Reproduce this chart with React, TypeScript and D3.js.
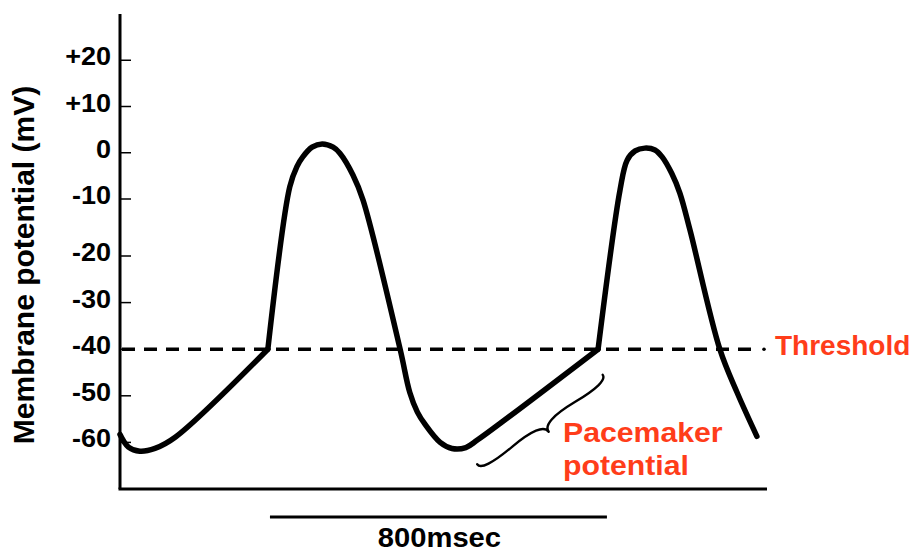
import React from "react";
import * as d3 from "d3";

// Y ticks (mV) and their labels
const yTickValues = [20, 10, 0, -10, -20, -30, -40, -50, -60];
const yTickLabels = ["+20", "+10", "0", "-10", "-20", "-30", "-40", "-50", "-60"];

// Membrane potential trace: time (ms) and potential (mV)
const traceTime = [0, 20, 47, 83, 131, 351, 403, 420, 434, 456, 480, 506, 522, 553, 577, 665, 688, 706, 724, 760, 788, 821, 850, 1135, 1187, 1204, 1223, 1246, 1270, 1287, 1310, 1329, 1353, 1424, 1465, 1512];
const traceMv = [-58.3, -61, -61.9, -61.3, -58.9, -40, -7.4, -3, -0.9, 1.2, 1.9, 1.2, -0.1, -4.8, -10.2, -40, -49.3, -53.5, -56.1, -60, -61.3, -61.1, -59.4, -40, -8.1, -1.6, 0.4, 1.0, 0.6, -0.9, -4.5, -8.7, -15.4, -40, -49.3, -58.7];

const thresholdMv = -40;
const thresholdLabel = "Threshold";
const pacemakerLabel = ["Pacemaker", "potential"];
// brace spans pacemaker phase: [time, mV] endpoints
const braceStart = [848, -64.7];
const braceEnd = [1146, -45.5];
// scale bar
const scaleBarStart = 356;
const scaleBarDuration = 800;
const scaleBarLabel = "800msec";
const yTitle = "Membrane potential (mV)";

const W = 921;
const H = 554;

export default function App() {
  const x = d3.scaleLinear().domain([0, 1536]).range([120, 767]);
  const y = d3.scaleLinear().domain([-70, -20, -10, 30]).range([489, 256, 199, 14]);

  const pts: [number, number][] = traceTime.map((t, i) => [t, traceMv[i]]);
  const line = d3
    .line<[number, number]>()
    .x((d) => x(d[0]))
    .y((d) => y(d[1]))
    .curve(d3.curveCatmullRom.alpha(0.5));
  // split at threshold joints so the corners stay sharp
  const seg1 = pts.slice(0, 6);
  const seg2 = pts.slice(5, 24);
  const seg3 = pts.slice(23);

  // curly brace
  const x1 = x(braceEnd[0]), y1 = y(braceEnd[1]);
  const x2 = x(braceStart[0]), y2 = y(braceStart[1]);
  const w = -15, q = 0.6;
  let dx = x1 - x2, dy = y1 - y2;
  const len = Math.sqrt(dx * dx + dy * dy);
  dx /= len; dy /= len;
  const qx1 = x1 + q * w * dy, qy1 = y1 - q * w * dx;
  const qx2 = x1 - 0.25 * len * dx + (1 - q) * w * dy, qy2 = y1 - 0.25 * len * dy - (1 - q) * w * dx;
  const tx1 = x1 - 0.5 * len * dx + w * dy, ty1 = y1 - 0.5 * len * dy - w * dx;
  const qx3 = x2 + q * w * dy, qy3 = y2 - q * w * dx;
  const qx4 = x1 - 0.75 * len * dx + (1 - q) * w * dy, qy4 = y1 - 0.75 * len * dy - (1 - q) * w * dx;
  const brace = `M${x1},${y1} Q${qx1},${qy1} ${qx2},${qy2} T${tx1},${ty1} M${x2},${y2} Q${qx3},${qy3} ${qx4},${qy4} T${tx1},${ty1}`;

  const font = "'Liberation Sans', Arial, sans-serif";
  const red = "#ff3d1a";

  return (
    <svg width={W} height={H} style={{ position: "absolute", left: 0, top: 0, background: "#fff" }}>
      {/* axes */}
      <line x1={x(0)} x2={x(0)} y1={y(30)} y2={y(-70)} stroke="#000" strokeWidth={3} />
      <line x1={x(0) - 1.5} x2={x(1536)} y1={y(-70)} y2={y(-70)} stroke="#000" strokeWidth={3} />
      {yTickValues.map((v, i) => (
        <g key={v}>
          <line x1={x(0)} x2={x(0) + 11} y1={y(v)} y2={y(v)} stroke="#000" strokeWidth={1.5} />
          <text
            transform={`translate(${x(0) - 9},${y(v) + 5}) scale(1.08,1)`}
            textAnchor="end"
            fontFamily={font}
            fontWeight="bold"
            fontSize={25}
            fill="#000"
          >
            {yTickLabels[i]}
          </text>
        </g>
      ))}
      <text
        transform={`translate(34,265) rotate(-90)`}
        textAnchor="middle"
        fontFamily={font}
        fontWeight="bold"
        fontSize={30}
        fill="#000"
      >
        {yTitle}
      </text>

      {/* threshold */}
      <line x1={x(0) + 2} x2={x(1536) - 12} y1={y(thresholdMv)} y2={y(thresholdMv)} stroke="#000" strokeWidth={3.5} strokeDasharray="13,9" />
      <circle cx={x(1536) - 3} cy={y(thresholdMv)} r={1.8} fill="#000" />
      <text x={775} y={y(thresholdMv) + 6} fontFamily={font} fontWeight="bold" fontSize={28} fill={red}>
        {thresholdLabel}
      </text>

      {/* trace */}
      <path d={line(seg1) || ""} fill="none" stroke="#000" strokeWidth={5.5} strokeLinejoin="round" strokeLinecap="round" />
      <path d={line(seg2) || ""} fill="none" stroke="#000" strokeWidth={5.5} strokeLinejoin="round" strokeLinecap="round" />
      <path d={line(seg3) || ""} fill="none" stroke="#000" strokeWidth={5.5} strokeLinejoin="round" strokeLinecap="round" />

      {/* brace + label */}
      <path d={brace} fill="none" stroke="#000" strokeWidth={2.4} strokeLinecap="round" />
      {pacemakerLabel.map((s, i) => (
        <text key={s} x={563} y={442 + i * 33} fontFamily={font} fontWeight="bold" fontSize={28} fill={red}
          transform={`translate(${563 * (1 - 1.08)},0) scale(1.08,1)`}>
          {s}
        </text>
      ))}

      {/* scale bar */}
      <line x1={x(scaleBarStart)} x2={x(scaleBarStart + scaleBarDuration)} y1={517} y2={517} stroke="#000" strokeWidth={3} />
      <text
        transform={`translate(${(x(scaleBarStart) + x(scaleBarStart + scaleBarDuration)) / 2 + 1},547) scale(1.08,1)`}
        textAnchor="middle"
        fontFamily={font}
        fontWeight="bold"
        fontSize={27}
        fill="#000"
      >
        {scaleBarLabel}
      </text>
    </svg>
  );
}
